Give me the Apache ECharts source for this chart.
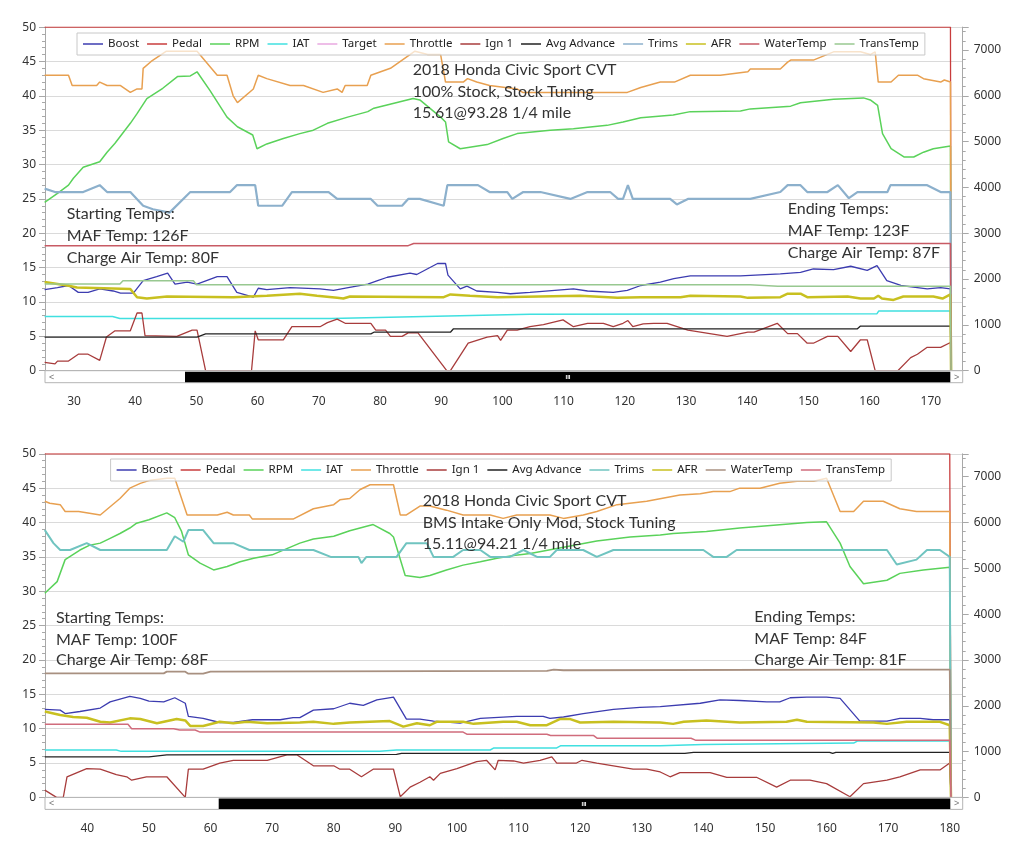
<!DOCTYPE html>
<html><head><meta charset="utf-8">
<script src="https://cdn.jsdelivr.net/npm/echarts@6/dist/echarts.min.js"></script>
<style>
html,body{margin:0;padding:0;background:#fff;}
#c1,#c2{position:absolute;left:0;width:1024px;height:428px;}
#c1{top:0}#c2{top:428px}
</style></head>
<body><div id="c1"></div><div id="c2"></div>
<script>
// ---------- tick labels ----------
const topXTicks = [30,40,50,60,70,80,90,100,110,120,130,140,150,160,170];
const bottomXTicks = [40,50,60,70,80,90,100,110,120,130,140,150,160,170,180];

// ---------- top chart (100% stock) ----------
const topNames = ['Boost','Pedal','RPM','IAT','Target','Throttle','Ign 1','Avg Advance','Trims','AFR','WaterTemp','TransTemp'];
const topBoost = [[25.2,11.8],[27.3,12.1],[29.1,12.4],[30.7,11.4],[32.3,11.4],[34.2,11.9],[36.4,11.6],[37.6,11.3],[39.7,11.3],[41.3,13.1],[43.5,13.7],[45.3,14.2],[46.5,12.6],[48.5,12.9],[50.1,12.6],[53.4,13.7],[55.0,13.7],[56.6,11.4],[59.3,10.7],[60.1,12.0],[61.5,11.8],[65.3,12.1],[70.2,11.9],[72.4,11.7],[74.8,12.1],[78.0,12.6],[79.6,13.1],[81.2,13.6],[84.9,14.2],[86.0,14.0],[89.4,15.6],[90.7,15.6],[91.1,13.9],[93.1,11.9],[94.2,12.3],[95.8,11.6],[99.2,11.4],[101.3,11.2],[104.5,11.4],[111.6,11.9],[113.9,11.6],[118.1,11.4],[120.4,11.7],[122.6,12.4],[125.8,12.9],[128.0,13.4],[130.7,13.8],[138.9,13.8],[145.4,14.1],[148.7,14.3],[150.8,14.8],[154.1,14.7],[156.9,15.2],[159.6,14.6],[161.2,15.3],[162.8,13.1],[165.1,12.4],[167.8,12.1],[169.4,11.9],[171.6,12.1],[173.2,11.9],[173.3,0]];
const topPedal = [[25.2,50],[173.2,50],[173.3,0]];
const topRPM = [[25.2,3675],[27.3,3870],[29.1,4050],[29.9,4200],[31.5,4440],[34.2,4560],[35.4,4770],[36.7,4965],[39.2,5400],[40.3,5610],[41.9,5940],[44.5,6165],[46.9,6420],[49.0,6435],[50.1,6525],[52.2,6120],[55.0,5535],[56.7,5325],[59.2,5145],[59.9,4845],[61.5,4950],[64.2,5070],[66.9,5175],[69.1,5250],[71.4,5400],[74.7,5535],[78.0,5655],[79.0,5730],[85.4,5940],[86.5,5910],[89.9,5535],[90.7,5430],[91.2,4995],[93.1,4845],[97.5,4935],[100.1,5070],[102.4,5175],[107.8,5250],[111.6,5280],[117.1,5355],[119.7,5430],[122.6,5520],[127.9,5580],[130.7,5655],[138.9,5670],[140.5,5715],[147.1,5775],[148.7,5850],[154.1,5925],[159.0,5955],[160.1,5910],[161.3,5790],[162.1,5175],[163.5,4845],[165.6,4665],[167.2,4665],[168.8,4770],[170.4,4845],[173.2,4905],[173.3,0]];
const topIAT = [[25.2,7.9],[36.3,7.9],[37.5,7.6],[72.0,7.6],[104.5,8.2],[161.2,8.3],[161.5,8.7],[173.2,8.7],[173.3,0]];
const topTarget = [];
const topThrottle = [[25.2,43],[29.1,43],[29.7,41.5],[33.7,41.5],[34.2,42],[35.4,41.5],[37.6,41.5],[39.2,40.5],[40.3,41],[41.1,41],[41.3,44],[42.6,45],[45.1,46.5],[50.1,46.5],[53.4,43],[55.0,43],[56.0,40],[56.7,39],[59.3,41],[60.1,43],[61.5,42.5],[65.3,41.5],[67.5,41.5],[70.7,40.5],[73.0,41],[73.8,40.5],[74.3,41.5],[77.9,41.5],[78.5,43],[81.7,44],[85.7,46.5],[87.8,46],[89.9,46],[90.7,42],[93.6,42],[94.3,42.5],[95.8,42],[97.9,41.5],[102.4,41],[103.3,40.5],[120.4,40.5],[122.6,41.2],[125.8,42],[128.1,42],[130.7,43],[135.6,43],[140.1,43.5],[140.5,43.9],[145.4,43.9],[146.6,44.9],[147.1,45.2],[150.8,45.2],[154.1,46.4],[158.5,46.4],[160.1,46],[160.9,46.4],[161.4,42],[163.5,42],[164.7,43],[167.8,43],[168.8,42.5],[171.6,42],[172.2,42.3],[173.2,42],[173.3,0]];
const topIgn = [[25.2,1.2],[26.9,1.0],[27.3,1.4],[29.1,1.4],[30.7,2.4],[32.3,2.4],[34.2,1.5],[35.3,4.9],[36.7,5.8],[39.2,5.8],[40.3,8.4],[41.1,8.4],[41.6,5.1],[46.8,5.0],[49.3,5.9],[50.1,5.9],[51.5,0],[59.0,0],[59.6,5.8],[60.1,4.5],[64.2,4.5],[65.6,6.4],[70.2,6.4],[71.4,7.0],[73.0,7.5],[74.3,6.9],[78.5,6.9],[79.3,5.9],[80.9,5.9],[81.7,5.0],[83.6,5.0],[84.6,5.5],[86.2,5.5],[90.9,0],[91.5,0],[94.4,4.0],[97.5,4.9],[99.2,5.1],[99.7,4.4],[100.8,5.9],[102.4,5.9],[104.5,6.4],[106.7,6.7],[109.9,7.4],[111.6,6.4],[113.9,6.9],[116.5,6.9],[118.1,6.4],[119.7,6.9],[120.5,7.3],[121.3,6.4],[123.0,6.8],[124.7,6.9],[126.9,6.9],[130.3,5.9],[136.7,5.0],[140.1,5.6],[141.1,5.6],[144.9,6.9],[146.6,5.4],[148.2,5.4],[149.8,4.0],[150.8,4.0],[153.1,5.0],[154.8,5.0],[156.9,2.8],[158.5,4.5],[159.6,4.5],[160.9,0],[164.6,0],[166.7,1.9],[167.8,2.4],[169.4,3.4],[171.6,3.4],[173.2,4.1],[173.3,0]];
const topAvg = [[25.2,4.9],[50.1,4.9],[51.5,5.35],[78.5,5.35],[79.0,5.6],[91.5,5.6],[92.0,6.1],[158.0,6.1],[158.5,6.5],[173.2,6.5],[173.3,0]];
const topTrims = [[25.2,26.5],[26.9,26],[31.5,26],[34.2,27],[35.4,26],[39.2,26],[41.3,24],[42.9,23.5],[45.6,23],[49.0,26],[55.5,26],[56.6,27],[59.6,27],[60.1,24],[64.0,24],[65.6,26],[71.6,26],[73.0,25],[78.5,25],[79.6,24],[83.6,24],[84.6,25],[86.5,25],[90.4,24],[91.0,27],[96.0,27],[97.9,26],[100.8,26],[101.6,25],[103.4,26],[106.2,26],[111.1,25],[113.9,26],[117.6,26],[118.9,25],[119.7,25],[120.5,27],[121.3,25],[127.4,25],[128.5,24.2],[130.3,25],[140.5,25],[145.4,26],[146.6,27],[148.7,27],[149.8,26],[153.1,26],[154.8,27],[156.6,25.1],[158.0,26],[162.9,26],[163.4,27],[169.4,27],[171.6,26],[173.2,26],[173.3,0]];
const topAFR = [[25.2,12.9],[28.9,12.4],[30.5,12.1],[39.2,11.9],[40.3,10.7],[41.9,10.5],[45.2,10.8],[56.0,10.7],[61.5,10.9],[66.9,11.2],[69.7,10.9],[73.0,10.6],[74.0,10.5],[75.1,10.8],[90.4,10.7],[91.5,11.1],[94.7,10.9],[99.2,10.7],[112.7,10.9],[118.8,10.6],[122.6,10.7],[129.1,10.7],[130.7,10.9],[138.9,10.8],[140.1,10.6],[145.4,10.7],[146.6,11.2],[148.7,11.2],[149.8,10.7],[156.4,10.8],[158.5,10.5],[160.7,10.5],[161.4,10.9],[162.0,10.5],[163.9,10.3],[165.5,10.8],[170.4,10.8],[171.9,10.5],[173.2,11.1],[173.3,0]];
const topWater = [[25.2,18.2],[84.6,18.2],[85.5,18.5],[173.2,18.5],[173.3,0]];
const topTrans = [[25.2,12.6],[37.5,12.6],[38.0,13.1],[49.5,13.1],[50.0,12.5],[140.5,12.5],[145.0,12.3],[173.2,12.3],[173.3,0]];

// ---------- bottom chart (BMS intake) ----------
const bottomNames = ['Boost','Pedal','RPM','IAT','Throttle','Ign 1','Avg Advance','Trims','AFR','WaterTemp','TransTemp'];
const bottomBoost = [[33.1,12.8],[35.6,12.7],[36.4,12.2],[38.8,12.5],[42.1,13.0],[43.7,13.9],[45.3,14.3],[46.9,14.7],[48.6,14.4],[50.0,14.0],[52.4,13.9],[54.2,14.5],[55.9,13.7],[56.4,11.8],[58.8,11.5],[61.5,10.9],[63.7,10.9],[66.8,11.3],[71.3,11.3],[73.4,11.6],[74.5,11.6],[76.7,12.7],[80.0,12.9],[82.6,13.7],[84.8,13.4],[87.0,14.2],[89.7,14.6],[91.8,11.4],[94.0,11.4],[96.2,11.1],[100.5,10.8],[103.8,11.5],[109.7,11.8],[114.0,11.8],[115.1,11.5],[117.3,11.7],[120.5,12.2],[125.4,12.8],[129.7,13.1],[133.0,13.2],[139.5,13.7],[142.7,14.2],[145.9,14.1],[150.3,13.9],[152.4,13.9],[154.1,14.5],[156.8,14.6],[160.0,14.6],[162.2,14.4],[165.4,11.1],[169.8,11.1],[171.9,11.5],[175.2,11.5],[177.3,11.3],[180.0,11.3],[180.2,0]];
const bottomPedal = [[33.1,50],[180.0,50],[180.2,0]];
const bottomRPM = [[33.1,4455],[35.1,4710],[36.4,5190],[38.8,5400],[40.4,5505],[42.1,5550],[43.7,5655],[45.3,5760],[46.9,5880],[48.0,5985],[50.0,6060],[52.9,6210],[54.2,6105],[55.3,5805],[56.4,5295],[58.3,5115],[60.5,4965],[62.7,5040],[64.8,5145],[67.0,5220],[70.0,5295],[74.5,5550],[76.7,5640],[80.0,5700],[82.6,5820],[86.4,5955],[89.1,5760],[89.7,5685],[91.6,4845],[94.0,4800],[95.6,4845],[98.3,4965],[101.0,5070],[103.8,5145],[106.5,5220],[109.2,5280],[111.9,5325],[117.3,5460],[122.7,5595],[128.1,5685],[133.0,5730],[135.1,5760],[140.5,5805],[145.9,5880],[151.4,5940],[156.8,6000],[160.0,6015],[162.2,5550],[163.8,5040],[166.0,4665],[169.8,4740],[171.9,4890],[175.7,4965],[180.0,5025],[180.2,0]];
const bottomIAT = [[33.1,6.9],[44.7,6.9],[45.5,6.7],[87.5,6.7],[90.2,6.9],[105.4,6.9],[106.0,7.2],[116.2,7.2],[116.8,7.5],[133.0,7.5],[140.0,7.7],[164.4,7.9],[165.0,8.2],[180.0,8.2],[180.2,0]];
const bottomThrottle = [[33.1,43.1],[33.9,42.8],[35.6,42.6],[36.4,41.6],[38.6,41.6],[42.1,41.1],[45.3,43.5],[46.9,45.0],[48.6,45.7],[50.0,46.1],[52.9,46.45],[54.2,46.45],[56.2,41.1],[61.1,41.1],[62.7,41.5],[63.7,41.1],[66.3,41.1],[66.8,40.5],[73.4,40.5],[76.7,42.0],[80.0,42.6],[81.0,43.3],[82.6,43.5],[84.3,44.8],[85.9,45.5],[89.7,45.5],[90.8,41.1],[91.8,41.1],[94.0,42.4],[95.6,42.4],[98.3,41.8],[101.0,41.1],[105.4,41.1],[107.5,40.6],[109.7,41.1],[115.1,41.1],[117.3,40.6],[120.5,41.1],[122.7,41.6],[126.0,42.6],[130.8,43.1],[136.2,44.0],[139.5,44.2],[141.6,44.5],[144.3,44.5],[145.9,45.0],[149.2,45.0],[152.4,45.7],[155.2,46.0],[157.9,46.0],[160.0,46.45],[162.2,41.6],[164.4,41.6],[166.0,43.1],[169.2,43.1],[171.9,42.0],[174.6,41.6],[180.0,41.6],[180.2,0]];
const bottomIgn = [[33.1,1.06],[35.0,0],[36.1,0],[36.7,3.0],[39.9,4.2],[42.1,4.1],[44.7,3.3],[46.4,3.0],[47.2,2.5],[49.6,3.0],[52.9,3.0],[55.9,0],[56.4,4.1],[58.8,4.1],[61.5,5.0],[63.7,5.4],[69.2,5.4],[72.4,6.2],[74.0,6.2],[76.7,4.6],[80.0,4.6],[81.0,4.1],[82.6,4.1],[84.5,3.0],[86.4,4.1],[89.7,4.1],[90.8,0.1],[92.4,1.5],[94.0,2.2],[95.6,3.0],[96.2,2.5],[97.3,3.5],[100.0,4.2],[101.6,4.7],[103.2,5.2],[104.8,5.4],[106.2,4.0],[106.7,5.4],[109.2,5.3],[110.8,5.0],[113.5,5.4],[115.4,5.9],[116.2,5.0],[119.4,5.0],[120.3,5.4],[122.7,5.0],[125.4,4.6],[128.6,4.1],[130.8,4.1],[133.0,3.7],[134.6,3.0],[136.2,3.6],[141.1,3.6],[143.8,2.9],[148.7,2.9],[151.9,1.5],[154.1,2.5],[157.3,2.5],[160.0,2.0],[163.8,0.1],[166.0,2.0],[169.8,2.5],[171.9,3.0],[175.2,4.0],[178.4,4.0],[180.0,5.0],[180.2,0]];
const bottomAvg = [[33.1,5.9],[50.0,5.9],[52.9,6.2],[90.2,6.25],[91.0,6.4],[137.0,6.4],[138.4,6.55],[160.5,6.55],[161.0,6.4],[161.5,6.55],[180.0,6.55],[180.2,0]];
const bottomTrims = [[33.1,38.9],[34.5,37.0],[35.6,36.0],[37.2,36.0],[39.9,37.0],[42.1,36.0],[52.9,36.0],[54.2,38.0],[55.6,37.2],[56.4,38.9],[58.8,38.9],[60.5,37.0],[63.7,37.0],[66.3,36.0],[76.7,36.0],[79.5,35.0],[84.0,35.0],[84.5,34.1],[85.3,35.0],[90.2,35.0],[91.8,37.0],[95.1,37.0],[96.2,35.0],[99.4,35.0],[101.0,36.0],[103.8,36.0],[105.4,35.0],[108.6,35.0],[110.8,36.0],[113.0,35.0],[115.1,35.0],[116.2,36.0],[120.5,36.0],[122.7,35.0],[125.4,36.0],[140.0,36.0],[141.6,35.0],[143.8,35.0],[145.4,36.0],[169.8,36.0],[171.4,33.9],[174.6,34.6],[176.3,36.0],[178.4,36.0],[180.0,35.0],[180.2,0]];
const bottomAFR = [[33.1,12.5],[35.6,12.0],[37.7,11.7],[39.9,11.6],[42.1,11.0],[43.7,10.9],[46.9,11.5],[48.6,11.4],[51.3,10.8],[54.5,11.4],[55.9,11.2],[56.7,10.4],[58.8,10.4],[61.5,11.0],[63.7,10.8],[65.9,11.0],[69.2,10.8],[74.5,10.9],[76.7,11.0],[80.0,10.7],[82.6,10.9],[89.1,11.1],[91.3,10.3],[93.5,10.8],[95.6,10.5],[96.7,11.0],[101.0,11.0],[102.7,10.7],[107.5,11.0],[109.7,11.0],[111.9,10.5],[114.6,10.5],[116.7,11.4],[118.4,11.4],[120.0,10.9],[125.4,11.0],[133.0,10.9],[135.1,10.7],[136.8,11.0],[140.5,11.2],[145.9,10.9],[153.5,11.0],[155.2,11.3],[156.8,11.0],[167.6,10.9],[169.8,10.7],[173.0,11.0],[178.4,11.0],[180.0,10.5],[180.2,0]];
const bottomWater = [[33.1,18.05],[52.4,18.05],[52.9,18.3],[55.9,18.3],[56.4,18.0],[58.8,18.0],[60.0,18.3],[114.6,18.4],[115.7,18.6],[117.3,18.5],[170.0,18.6],[180.0,18.6],[180.2,0]];
const bottomTrans = [[33.1,10.65],[46.6,10.65],[47.2,10.0],[54.0,10.0],[55.0,9.8],[57.5,9.8],[58.3,9.5],[101.0,9.5],[101.6,9.2],[114.6,9.2],[115.2,9.0],[122.2,9.0],[122.8,8.6],[138.0,8.6],[138.8,8.3],[180.0,8.3],[180.2,0]];

// ---------- builders ----------
const FONT = '"Noto Sans", "Open Sans", sans-serif';
function line(name, data, color, width, yIndex) {
  return { name, type: 'line', data, yAxisIndex: yIndex || 0, xAxisIndex: 0,
    symbol: 'none', showSymbol: false, clip: true, animation: false,
    lineStyle: { color, width: width || 1.3 }, itemStyle: { color },
    emphasis: { disabled: true } };
}
function build(c) {
  const gTop = c.gridTop, gH = 343.6, sbY = gTop + gH;
  const minor = [];
  for (let v = Math.ceil(c.xMin); v <= Math.floor(c.xMax); v++) minor.push(v);
  const axisCol = '#a8a8a8';
  const texts = c.texts.map(t => ({ type: 'text', x: t[1], y: t[2], z: 100,
    style: { text: t[0], font: '16px Lato, "Open Sans", sans-serif', fill: '#333',
      textVerticalAlign: 'middle', verticalAlign: 'middle' } }));
  const sb = [
    { type: 'rect', z: 100, shape: { x: 45, y: sbY, width: 917.7, height: 12 }, style: { fill: '#fff', stroke: '#b4b4b4', lineWidth: 1 } },
    { type: 'rect', z: 101, shape: { x: c.thumbX, y: sbY + 1, width: 950.3 - c.thumbX, height: 10.5 }, style: { fill: '#000' } },
    { type: 'text', z: 102, x: c.gripX, y: sbY + 6.5, style: { text: 'III', fill: '#fff', font: 'bold 6px sans-serif', textAlign: 'center', align: 'center', textVerticalAlign: 'middle', verticalAlign: 'middle' } },
    { type: 'text', z: 102, x: 49, y: sbY + 6.5, style: { text: '<', fill: '#777', font: '9px sans-serif', textVerticalAlign: 'middle', verticalAlign: 'middle' } },
    { type: 'text', z: 102, x: 954, y: sbY + 6.5, style: { text: '>', fill: '#777', font: '9px sans-serif', textVerticalAlign: 'middle', verticalAlign: 'middle' } }
  ];
  return {
    animation: false,
    backgroundColor: '#fff',
    grid: { left: 45, right: 61.3, top: gTop, height: gH, containLabel: false },
    legend: {
      data: c.names, left: c.legendLeft, top: c.legendTop, orient: 'horizontal',
      icon: 'rect', itemWidth: 20, itemHeight: 1.5, itemGap: 8,
      padding: [5, 6, 5, 6], borderColor: '#c8c8c8', borderWidth: 1,
      backgroundColor: 'rgba(255,255,255,0.7)', selectedMode: false,
      textStyle: { fontFamily: FONT, fontSize: 11.5, color: '#222' }, z: 50
    },
    xAxis: [
      { type: 'value', min: c.xMin, max: c.xMax, position: 'bottom', offset: 12,
        axisLine: { show: true, lineStyle: { color: axisCol } },
        axisTick: { show: true, length: 6, lineStyle: { color: axisCol }, customValues: c.xTicks },
        axisLabel: { show: true, customValues: c.xTicks, margin: 13, color: '#333', fontFamily: FONT, fontSize: 12 },
        splitLine: { show: false } },
      { type: 'value', min: c.xMin, max: c.xMax, position: 'bottom', offset: 12,
        axisLine: { show: false },
        axisTick: { show: true, length: 3, lineStyle: { color: axisCol }, customValues: minor },
        axisLabel: { show: false }, splitLine: { show: false } }
    ],
    yAxis: [
      { type: 'value', min: 0, max: 50, interval: 5, position: 'left',
        axisLine: { show: true, lineStyle: { color: axisCol } },
        axisTick: { show: true, length: 6, lineStyle: { color: axisCol } },
        minorTick: { show: true, splitNumber: 5, length: 3, lineStyle: { color: axisCol } },
        axisLabel: { margin: 9, color: '#333', fontFamily: FONT, fontSize: 12 },
        splitLine: { show: true, lineStyle: { color: '#dadada', width: 1 } } },
      { type: 'value', min: 0, max: 7500, interval: 1000, position: 'right',
        axisLine: { show: true, lineStyle: { color: axisCol } },
        axisTick: { show: true, length: 6, lineStyle: { color: axisCol } },
        minorTick: { show: true, splitNumber: 5, length: 3, lineStyle: { color: axisCol } },
        axisLabel: { margin: 11, color: '#333', fontFamily: FONT, fontSize: 12, showMaxLabel: false,
          formatter: v => String(Math.round(v)) },
        splitLine: { show: false } }
    ],
    graphic: { elements: sb.concat(texts) },
    series: c.series
  };
}

const topOption = build({
  gridTop: 27.1, xMin: 25.26, xMax: 175.2, xTicks: topXTicks, names: topNames,
  legendLeft: 77, legendTop: 33, thumbX: 185, gripX: 568,
  texts: [
    ['2018 Honda Civic Sport CVT', 412.7, 70], ['100% Stock, Stock Tuning', 412.7, 91.7], ['15.61@93.28 1/4 mile', 412.7, 112.7],
    ['Starting Temps:', 66.7, 214], ['MAF Temp: 126F', 66.7, 236], ['Charge Air Temp: 80F', 66.7, 258],
    ['Ending Temps:', 787.7, 209], ['MAF Temp: 123F', 787.7, 230.7], ['Charge Air Temp: 87F', 787.7, 252.7]
  ],
  series: [
    line('Boost', topBoost, '#3c3cb0', 1.3),
    line('Pedal', topPedal, '#c83c3c', 1.3),
    line('RPM', topRPM, '#5ad25a', 1.5, 1),
    line('IAT', topIAT, '#40e0e0', 1.5),
    line('Target', topTarget, '#e8a8e0', 1.3),
    line('Throttle', topThrottle, '#e8a050', 1.5),
    line('Ign 1', topIgn, '#a83c3c', 1.3),
    line('Avg Advance', topAvg, '#222222', 1.3),
    line('Trims', topTrims, '#8cb0cc', 2.2),
    line('AFR', topAFR, '#c8c020', 2.5),
    line('WaterTemp', topWater, '#c85a64', 1.5),
    line('TransTemp', topTrans, '#98c890', 1.5)
  ]
});

const bottomOption = build({
  gridTop: 25.8, xMin: 33.13, xMax: 182.1, xTicks: bottomXTicks, names: bottomNames,
  legendLeft: 110.6, legendTop: 31, thumbX: 218.7, gripX: 584,
  texts: [
    ['2018 Honda Civic Sport CVT', 422.7, 72.7], ['BMS Intake Only Mod, Stock Tuning', 422.7, 94.7], ['15.11@94.21 1/4 mile', 422.7, 116],
    ['Starting Temps:', 56, 190.3], ['MAF Temp: 100F', 56, 211.5], ['Charge Air Temp: 68F', 56, 232],
    ['Ending Temps:', 754.3, 188.7], ['MAF Temp: 84F', 754.3, 210.5], ['Charge Air Temp: 81F', 754.3, 232]
  ],
  series: [
    line('Boost', bottomBoost, '#3c3cb0', 1.3),
    line('Pedal', bottomPedal, '#c83c3c', 1.3),
    line('RPM', bottomRPM, '#5ad25a', 1.5, 1),
    line('IAT', bottomIAT, '#40e0e0', 1.5),
    line('Throttle', bottomThrottle, '#e8a050', 1.5),
    line('Ign 1', bottomIgn, '#a83c3c', 1.3),
    line('Avg Advance', bottomAvg, '#222222', 1.3),
    line('Trims', bottomTrims, '#70c4c0', 2.0),
    line('AFR', bottomAFR, '#c8c020', 2.5),
    line('WaterTemp', bottomWater, '#a89080', 1.8),
    line('TransTemp', bottomTrans, '#d06c7c', 1.5)
  ]
});

echarts.init(document.getElementById('c1'), null, { renderer: 'canvas' }).setOption(topOption);
echarts.init(document.getElementById('c2'), null, { renderer: 'canvas' }).setOption(bottomOption);
</script>
</body></html>
